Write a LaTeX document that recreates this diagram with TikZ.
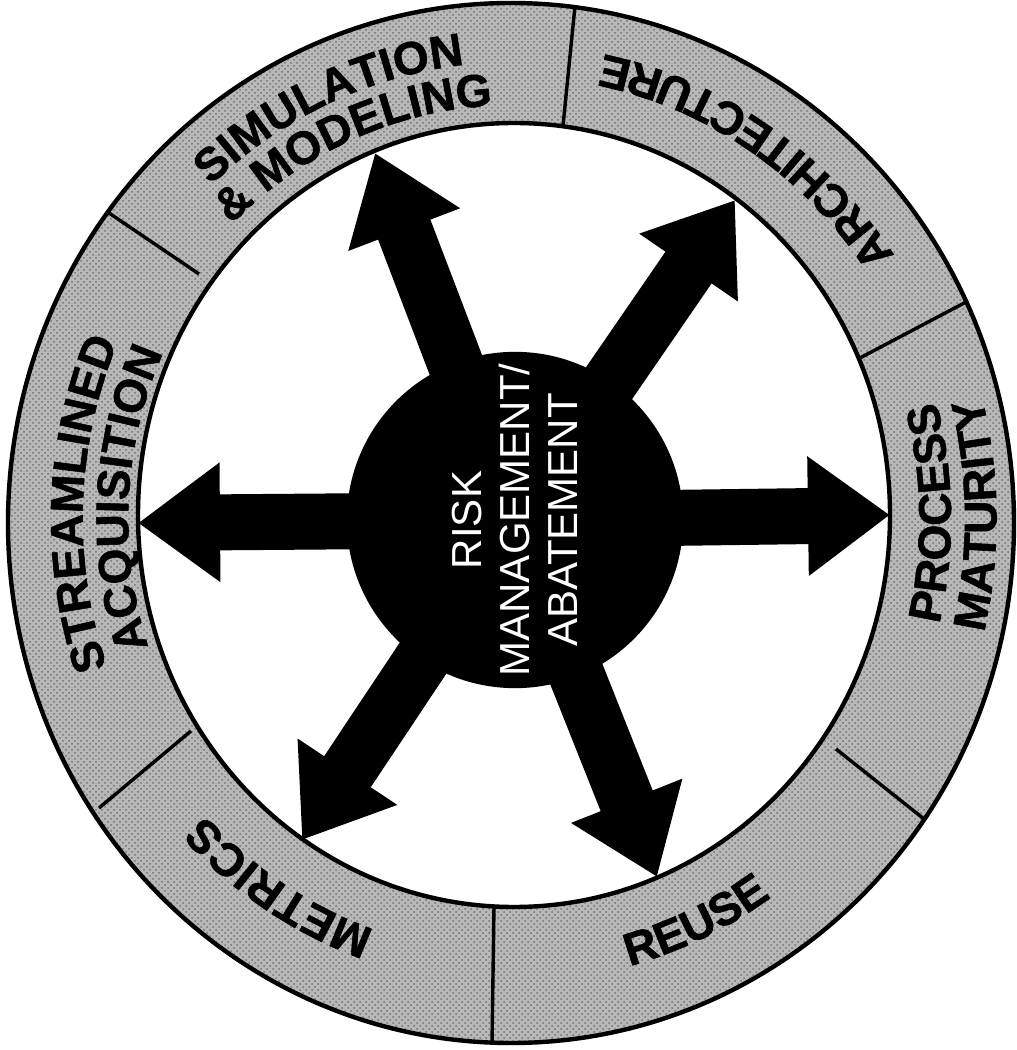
\documentclass[tikz,border=0pt]{standalone}
\usepackage{fontspec}
\setmainfont{Liberation Sans}
\newfontfamily\heavyfont[FakeBold=1.2]{Liberation Sans Bold}
\usetikzlibrary{arrows.meta,decorations.text,patterns}
\definecolor{ringgray}{gray}{0.72}
\newcommand\lblfont{\fontsize{23}{25}\selectfont\heavyfont}
\newcommand\arclabel[4]{%
  \path[decorate, decoration={text along path, text align=center, text={|\lblfont|#4}}]
    ({513+0.967*#3*cos(#1)},{531+#3*sin(#1)})
    arc[start angle=#1, end angle=#2, x radius={0.967*#3}, y radius=#3];}
\begin{document}
\begin{tikzpicture}[x=0.5pt,y=0.5pt,
  ringline/.style={line width=2.2pt},
  divider/.style={line width=1.7pt},
  fatarrow/.style={line width=28pt, -{Triangle[length=41pt,width=57pt]}},
  hubstyle/.style={circle, fill=black, minimum size=167pt, inner sep=0pt,
    text=white, font=\fontsize{21}{24}\selectfont, align=center, rotate=90}]
\useasboundingbox (0,0) rectangle (1017,1050);
% ring
\fill[ringgray, even odd rule] (511,527) ellipse[x radius=503, y radius=520]
  (514,535) ellipse[x radius=376, y radius=392];
\fill[pattern=crosshatch dots, pattern color=black!55, even odd rule]
  (511,527) ellipse[x radius=503, y radius=520]
  (514,535) ellipse[x radius=376, y radius=392];
\draw[divider] (575,1044) -- (563,924);
\draw[divider] (968,749) -- (858,691);
\draw[divider] (924,231) -- (836,301);
\draw[divider] (492,6) -- (494,144);
\draw[divider] (99,242) -- (191,319);
\draw[divider] (109,837) -- (199,776);
\draw[ringline] (511,527) ellipse[x radius=503, y radius=520];
\draw[ringline] (514,535) ellipse[x radius=376, y radius=392];
% labels
\arclabel{144.6}{84.6}{457}{SIMULATION}
\arclabel{143.7}{83.7}{414}{{\&} MODELING}
\arclabel{16.4}{96.4}{474}{ARCHITECTURE}
\arclabel{-39.2}{40.8}{453}{PROCESS}
\arclabel{-39.5}{40.5}{500}{MATURITY}
\arclabel{-95}{-35}{463}{REUSE}
\arclabel{-93}{-153}{435}{METRICS}
\arclabel{218}{138}{445}{STREAMLINED}
\arclabel{217}{137}{398}{ACQUISITION}
% arrows
\coordinate (hubc) at (515,530);
\coordinate (tpm) at (890,535);
\coordinate (tar) at (735,850);
\coordinate (tsm) at (375,897);
\coordinate (tsa) at (138,527);
\coordinate (tme) at (302,210);
\coordinate (tre) at (657,173);
\foreach \tgt in {tpm,tar,tsm,tsa,tme,tre}
  \draw[fatarrow] (hubc) -- (\tgt);
\node[hubstyle] (hub) at (hubc) {RISK\\MANAGEMENT/\\ABATEMENT};
\end{tikzpicture}
\end{document}
